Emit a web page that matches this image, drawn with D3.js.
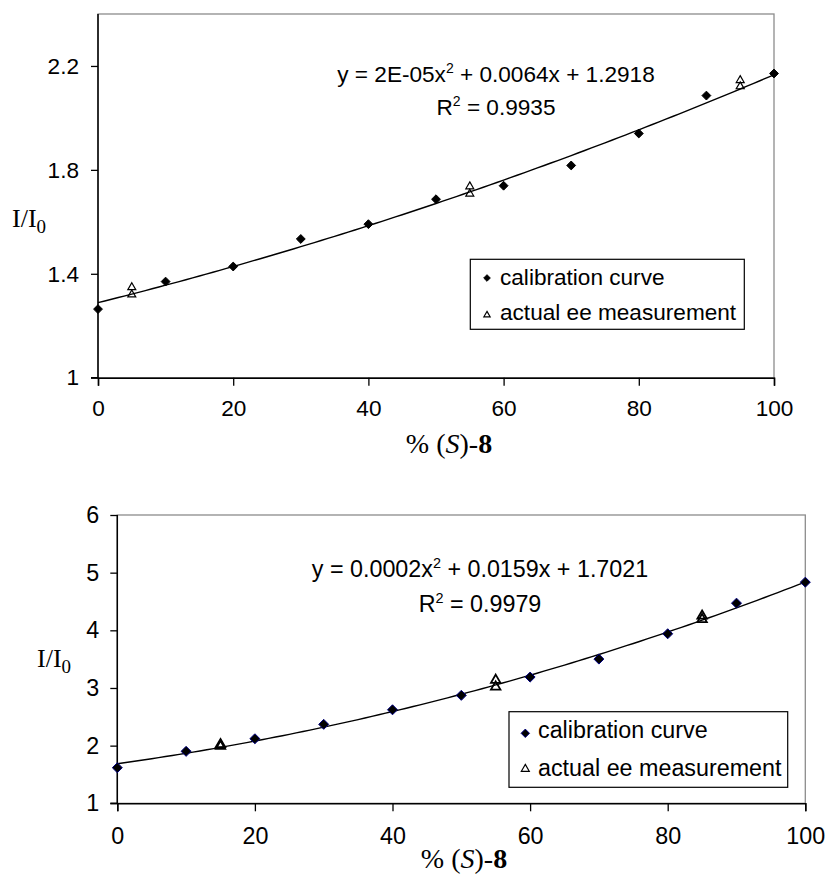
<!DOCTYPE html>
<html><head><meta charset="utf-8">
<script src="https://cdn.jsdelivr.net/npm/d3@7"></script>
<style>
body{margin:0;background:#fff;}
svg{display:block;}
</style></head>
<body>
<svg id="c" width="829" height="877"></svg>
<script>
// ---------- data ----------
const calX = [0, 10, 20, 30, 40, 50, 60, 70, 80, 90, 100];
const topCalY = [1.264, 1.370, 1.428, 1.534, 1.591, 1.687, 1.739, 1.817, 1.940, 2.086, 2.171];
const topEeX = [5, 5, 55, 55, 95, 95];
const topEeY = [1.348, 1.320, 1.736, 1.708, 2.145, 2.121];
const botCalY = [1.617, 1.901, 2.120, 2.369, 2.622, 2.872, 3.189, 3.501, 3.940, 4.471, 4.835];
const botEeX = [15, 15, 55, 55, 85, 85];
const botEeY = [2.02, 1.99, 3.137, 3.02, 4.25, 4.19];
const xTicks = [0, 20, 40, 60, 80, 100];
const topYTicks = [1, 1.4, 1.8, 2.2];
const botYTicks = [1, 2, 3, 4, 5, 6];
const topEq = {a: "2E-05", b: "0.0064", c: "1.2918", r2: "0.9935"};
const botEq = {a: "0.0002", b: "0.0159", c: "1.7021", r2: "0.9979"};
const legendLabels = ["calibration curve", "actual ee measurement"];

// quadratic least squares fit
function quadFit(xs, ys) {
  let S = Array(5).fill(0), T = Array(3).fill(0);
  xs.forEach((x, i) => {
    for (let k = 0; k < 5; k++) S[k] += Math.pow(x, k);
    for (let k = 0; k < 3; k++) T[k] += ys[i] * Math.pow(x, k);
  });
  const M = [[S[0], S[1], S[2], T[0]], [S[1], S[2], S[3], T[1]], [S[2], S[3], S[4], T[2]]];
  for (let i = 0; i < 3; i++) {
    for (let j = i + 1; j < 3; j++) {
      const f = M[j][i] / M[i][i];
      for (let k = i; k < 4; k++) M[j][k] -= f * M[i][k];
    }
  }
  const c = [0, 0, 0];
  for (let i = 2; i >= 0; i--) {
    let s = M[i][3];
    for (let k = i + 1; k < 3; k++) s -= M[i][k] * c[k];
    c[i] = s / M[i][i];
  }
  return x => c[0] + c[1] * x + c[2] * x * x;
}

const svg = d3.select("#c");
const SANS = "'Liberation Sans', Arial, sans-serif";
const SERIF = "'Liberation Serif', 'Times New Roman', serif";

function drawChart(cfg) {
  const g = svg.append("g");
  const x = d3.scaleLinear().domain([0, 100]).range([cfg.left, cfg.right]);
  const y = d3.scaleLinear().domain(cfg.yDomain).range([cfg.bottom, cfg.top]);
  const fs = cfg.fs;

  // plot area border (grey)
  g.append("rect").attr("x", cfg.left).attr("y", cfg.top)
    .attr("width", cfg.right - cfg.left).attr("height", cfg.bottom - cfg.top)
    .attr("fill", "none").attr("stroke", "#8c8c8c").attr("stroke-width", 1.3);

  // axes
  const yAxis = g.append("g").attr("transform", `translate(${cfg.left},0)`)
    .call(d3.axisLeft(y).tickValues(cfg.yTicks).tickSize(7).tickPadding(cfg.yPad).tickFormat(d3.format("~g")));
  const xAxis = g.append("g").attr("transform", `translate(0,${cfg.bottom})`)
    .call(d3.axisBottom(x).tickValues(xTicks).tickSize(8).tickPadding(cfg.xPad).tickFormat(d3.format("d")));
  [yAxis, xAxis].forEach(a => {
    a.select(".domain").attr("stroke", "#000").attr("stroke-width", 1.5);
    a.selectAll(".tick line").attr("stroke", "#000").attr("stroke-width", 1.3);
    a.selectAll(".tick text").attr("fill", "#000").style("font-family", SANS).style("font-size", fs + "px");
  });
  yAxis.select(".domain").attr("d", `M-7,${cfg.bottom}H0V${cfg.top}`);

  // trendline
  const fit = quadFit(calX, cfg.calY);
  const pts = d3.range(0, 100.01, 1).map(v => [v, fit(v)]);
  g.append("path").datum(pts)
    .attr("d", d3.line().x(d => x(d[0])).y(d => y(d[1])))
    .attr("fill", "none").attr("stroke", "#000").attr("stroke-width", 1.4);

  const diamond = d3.symbol().type(d3.symbolDiamond2);
  const tri = d3.symbol().type(d3.symbolTriangle2);

  // calibration points
  g.selectAll(".cal").data(calX.map((v, i) => [v, cfg.calY[i]])).enter()
    .append("path")
    .attr("transform", d => `translate(${x(d[0])},${y(d[1])})`)
    .attr("d", diamond.size(cfg.dSize))
    .attr("fill", "#000").attr("stroke", cfg.dStroke).attr("stroke-width", 1);

  // ee measurement points
  g.selectAll(".ee").data(cfg.eeX.map((v, i) => [v, cfg.eeY[i]])).enter()
    .append("path")
    .attr("transform", d => `translate(${x(d[0])},${y(d[1])})`)
    .attr("d", tri.size(cfg.tSize))
    .attr("fill", "none").attr("stroke", "#000").attr("stroke-width", cfg.tStroke);

  // equation
  const eq = g.append("text").attr("x", cfg.eqX).attr("y", cfg.eqY)
    .attr("text-anchor", "middle").style("font-family", SANS).style("font-size", fs + "px");
  eq.append("tspan").text(`y = ${cfg.eq.a}x`);
  eq.append("tspan").attr("dy", -9).style("font-size", (fs * 0.62) + "px").text("2");
  eq.append("tspan").attr("dy", 9).text(` + ${cfg.eq.b}x + ${cfg.eq.c}`);
  const r2 = g.append("text").attr("x", cfg.eqX).attr("y", cfg.eqY + cfg.eqGap)
    .attr("text-anchor", "middle").style("font-family", SANS).style("font-size", fs + "px");
  r2.append("tspan").text("R");
  r2.append("tspan").attr("dy", -9).style("font-size", (fs * 0.62) + "px").text("2");
  r2.append("tspan").attr("dy", 9).text(` = ${cfg.eq.r2}`);

  // legend
  const L = cfg.legend;
  g.append("rect").attr("x", L.x).attr("y", L.y).attr("width", L.w).attr("height", L.h)
    .attr("fill", "#fff").attr("stroke", "#000").attr("stroke-width", 1.2);
  g.append("path").attr("transform", `translate(${L.mx},${L.r1})`)
    .attr("d", diamond.size(L.dSize)).attr("fill", "#000").attr("stroke", cfg.dStroke);
  g.append("path").attr("transform", `translate(${L.mx},${L.r2})`)
    .attr("d", tri.size(L.tSize)).attr("fill", "none").attr("stroke", "#000").attr("stroke-width", 1.2);
  g.append("text").attr("x", L.tx).attr("y", L.b1).text(legendLabels[0])
    .style("font-family", SANS).style("font-size", fs + "px");
  g.append("text").attr("x", L.tx).attr("y", L.b2).text(legendLabels[1])
    .style("font-family", SANS).style("font-size", fs + "px");

  // y label I/I0
  const yl = g.append("text").attr("x", cfg.ylX).attr("y", cfg.ylY)
    .style("font-family", SERIF).style("font-size", "26px");
  yl.append("tspan").text("I/I");
  yl.append("tspan").attr("dy", 6).style("font-size", "19px").text("0");

  // x title
  const xt = g.append("text").attr("x", cfg.xtX).attr("y", cfg.xtY).attr("text-anchor", "middle")
    .style("font-family", SERIF).style("font-size", "28px");
  xt.append("tspan").text("% (");
  xt.append("tspan").style("font-style", "italic").text("S");
  xt.append("tspan").text(")-");
  xt.append("tspan").style("font-weight", "bold").text("8");
}

drawChart({
  left: 98, right: 774, top: 14, bottom: 377.7,
  yDomain: [1, 2.4], yTicks: topYTicks, calY: topCalY, eeX: topEeX, eeY: topEeY,
  fs: 22.6, yPad: 12, xPad: 14,
  dSize: 50, dStroke: "#000", tSize: 45, tStroke: 1.2,
  eq: topEq, eqX: 496, eqY: 81.7, eqGap: 33.5,
  legend: {x: 470.3, y: 259.3, w: 274, h: 70, mx: 487, r1: 278, r2: 315, dSize: 28, tSize: 28,
           tx: 500, b1: 285, b2: 320},
  ylX: 12, ylY: 227, xtX: 449, xtY: 453
});

drawChart({
  left: 117.3, right: 805.3, top: 515, bottom: 803.3,
  yDomain: [1, 6], yTicks: botYTicks, calY: botCalY, eeX: botEeX, eeY: botEeY,
  fs: 23.3, yPad: 11, xPad: 16,
  dSize: 64, dStroke: "#000080", tSize: 64, tStroke: 1.8,
  eq: botEq, eqX: 480, eqY: 576.7, eqGap: 35,
  legend: {x: 509, y: 711.7, w: 278.7, h: 75.6, mx: 525.3, r1: 733.3, r2: 769, dSize: 45, tSize: 45,
           tx: 538, b1: 738.3, b2: 776},
  ylX: 37, ylY: 667, xtX: 464, xtY: 868
});
</script>
</body></html>
